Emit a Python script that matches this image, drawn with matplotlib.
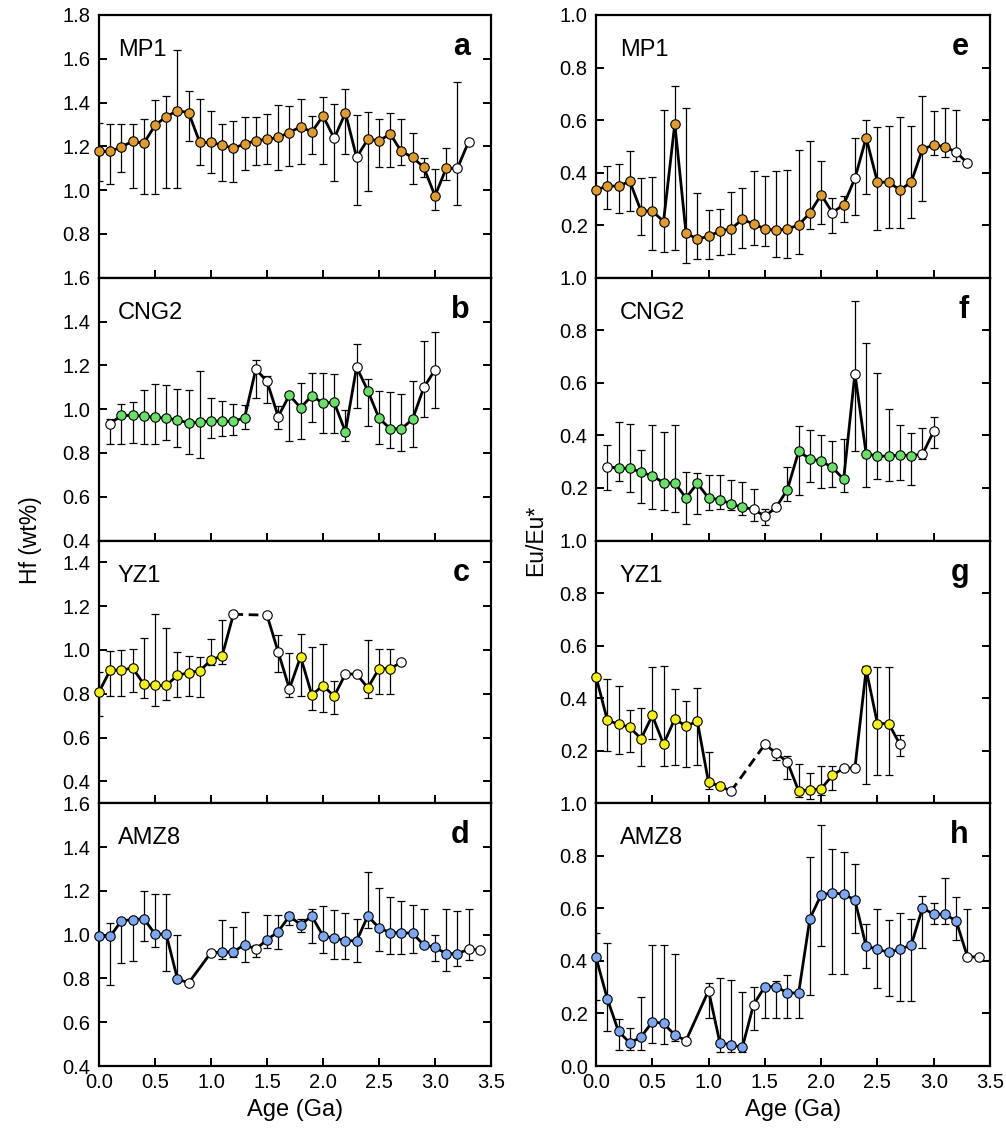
import numpy as np
import matplotlib
matplotlib.use('Agg')
import matplotlib.pyplot as plt

nan = np.nan
plt.rcParams['font.family'] = ['Liberation Sans', 'DejaVu Sans']

# ---------------- data ----------------
# Panel a: Hf, MP1
a_x = [0.0, 0.1, 0.2, 0.3, 0.4, 0.5, 0.6, 0.7, 0.8, 0.9, 1.0, 1.1, 1.2, 1.3, 1.4, 1.5, 1.6,
       1.7, 1.8, 1.9, 2.0, 2.1, 2.2, 2.3, 2.4, 2.5, 2.6, 2.7, 2.8, 2.9, 3.0, 3.1, 3.2, 3.3]
a_y = [1.177, 1.177, 1.198, 1.223, 1.214, 1.296, 1.336, 1.363, 1.354, 1.218, 1.218, 1.205,
       1.192, 1.211, 1.226, 1.232, 1.241, 1.263, 1.29, 1.266, 1.339, 1.237, 1.353, 1.15, 1.232,
       1.226, 1.256, 1.177, 1.15, 1.104, 0.974, 1.10, 1.10, 1.221]
a_hi = [1.305, 1.30, 1.30, 1.30, 1.327, 1.41, 1.43, 1.641, 1.455, 1.415, 1.36, 1.304, 1.316,
        1.333, 1.333, 1.348, 1.39, 1.383, 1.418, 1.337, 1.426, 1.395, 1.46, 1.345, 1.357, 1.325,
        1.351, 1.327, 1.26, 1.147, 1.095, 1.192, 1.496, nan]
a_lo = [1.043, 1.03, 1.084, 1.012, 0.983, 0.983, 1.012, 1.012, 1.226, 1.115, 1.08, 1.044, 1.038,
        1.093, 1.115, 1.12, 1.093, 1.111, 1.12, 1.163, 1.12, 1.044, 1.165, 0.933, 0.994, 1.107,
        1.107, 1.115, 1.027, 1.06, 0.908, 1.046, 0.933, nan]
a_open = [2.1, 2.3, 3.2, 3.3]

# Panel b: Hf, CNG2
b_x = [0.1, 0.2, 0.3, 0.4, 0.5, 0.6, 0.7, 0.8, 0.9, 1.0, 1.1, 1.2, 1.3, 1.4, 1.5, 1.6, 1.7,
       1.8, 1.9, 2.0, 2.1, 2.2, 2.3, 2.4, 2.5, 2.6, 2.7, 2.8, 2.9, 3.0]
b_y = [0.934, 0.971, 0.971, 0.968, 0.962, 0.959, 0.95, 0.937, 0.94, 0.947, 0.944, 0.945, 0.96,
       1.182, 1.127, 0.966, 1.064, 1.006, 1.061, 1.027, 1.031, 0.896, 1.192, 1.084, 0.959, 0.91,
       0.91, 0.954, 1.099, 1.179]
b_hi = [0.956, 1.024, 1.032, 1.089, 1.115, 1.108, 1.092, 1.087, 1.173, 1.052, 1.035, 1.023,
        1.02, 1.223, 1.15, 1.014, 1.07, 1.119, 1.163, 1.163, 1.159, 0.997, 1.299, 1.137, 1.082,
        1.078, 1.07, 1.13, 1.31, 1.35]
b_lo = [0.843, 0.843, 0.847, 0.84, 0.843, 0.858, 0.829, 0.795, 0.777, 0.866, 0.875, 0.881,
        0.911, 1.052, 1.03, 0.911, 0.856, 0.863, 0.939, 0.889, 0.889, 0.853, 1.006, 0.924, 0.841,
        0.824, 0.808, 0.826, 0.963, 1.003]
b_open = [0.1, 1.4, 1.5, 1.6, 2.3, 2.9, 3.0]

# Panel c: Hf, YZ1
c_x = [0.0, 0.1, 0.2, 0.3, 0.4, 0.5, 0.6, 0.7, 0.8, 0.9, 1.0, 1.1, 1.2,
       1.5, 1.6, 1.7, 1.8, 1.9, 2.0, 2.1, 2.2, 2.3, 2.4, 2.5, 2.6, 2.7]
c_y = [0.808, 0.908, 0.908, 0.918, 0.844, 0.838, 0.838, 0.884, 0.896, 0.905, 0.954, 0.974, 1.163,
       1.159, 0.991, 0.823, 0.969, 0.795, 0.837, 0.789, 0.89, 0.89, 0.827, 0.915, 0.915, 0.944]
c_hi = [0.899, 0.994, 1.0, 1.006, 1.053, 1.163, 1.1, 0.99, 0.974, 0.966, 1.05, 1.137, nan,
        nan, 1.07, 0.986, 1.073, 1.014, 1.029, 0.858, nan, nan, 1.044, 1.005, 1.005, nan]
c_lo = [0.70, 0.788, 0.788, 0.808, 0.78, 0.742, 0.77, 0.786, 0.79, 0.786, 0.93, 0.934, nan,
        nan, 0.9, 0.786, 0.788, 0.724, 0.716, 0.708, nan, nan, 0.78, 0.8, 0.8, nan]
c_open = [1.2, 1.5, 1.6, 1.7, 2.2, 2.3, 2.7]
c_dash = (1.2, 1.5)

# Panel d: Hf, AMZ8
d_x = [0.0, 0.1, 0.2, 0.3, 0.4, 0.5, 0.6, 0.7, 0.8,
       1.0, 1.1, 1.2, 1.3, 1.4, 1.5, 1.6, 1.7, 1.8, 1.9, 2.0, 2.1, 2.2, 2.3, 2.4, 2.5, 2.6,
       2.7, 2.8, 2.9, 3.0, 3.1, 3.2, 3.3, 3.4]
d_y = [0.992, 0.992, 1.063, 1.069, 1.073, 1.003, 1.002, 0.798, 0.779,
       0.918, 0.919, 0.922, 0.954, 0.934, 0.976, 1.014, 1.084, 1.046, 1.084, 0.995, 0.983, 0.973,
       0.971, 1.085, 1.031, 1.009, 1.009, 1.006, 0.953, 0.942, 0.913, 0.913, 0.933, 0.931]
d_hi = [nan, 1.052, 1.07, 1.07, 1.198, 1.185, 1.185, 1.0, nan,
        nan, 1.069, 1.034, 1.102, 0.954, 1.09, 1.09, 1.1, 1.07, 1.119, 1.131, 1.113, 1.1, 1.07,
        1.285, 1.214, 1.171, 1.154, 1.136, 1.118, 1.0, 1.118, 1.108, 1.118, nan]
d_lo = [nan, 0.771, 0.869, 0.878, 0.973, 0.945, 0.832, 0.782, nan,
        nan, 0.887, 0.898, 0.876, 0.898, 0.937, 0.933, 1.043, 1.01, 0.96, 0.915, 0.889, 0.889,
        0.876, 1.031, 0.927, 0.91, 0.91, 0.915, 0.95, 0.881, 0.834, 0.856, 0.882, nan]
d_open = [0.8, 1.0, 1.4, 3.3, 3.4]

# Panel e: Eu/Eu*, MP1
e_x = a_x
e_y = [0.334, 0.349, 0.349, 0.367, 0.254, 0.254, 0.214, 0.586, 0.169, 0.148, 0.157, 0.178,
       0.186, 0.222, 0.205, 0.186, 0.18, 0.186, 0.2, 0.247, 0.316, 0.248, 0.278, 0.378, 0.533,
       0.364, 0.364, 0.334, 0.364, 0.489, 0.506, 0.498, 0.478, 0.436]
e_hi = [nan, 0.425, 0.432, 0.484, 0.378, 0.382, 0.637, 0.729, 0.646, 0.321, 0.257, 0.261, 0.325,
        0.341, 0.405, 0.388, 0.405, 0.41, 0.487, 0.52, 0.446, 0.302, 0.313, 0.531, 0.602, 0.575,
        0.577, 0.612, 0.577, 0.692, 0.633, 0.646, 0.64, nan]
e_lo = [nan, 0.26, 0.245, 0.254, 0.162, 0.106, 0.098, 0.106, 0.057, 0.071, 0.07, 0.087, 0.09,
        0.112, 0.124, 0.12, 0.08, 0.077, 0.089, 0.186, 0.206, 0.169, 0.211, 0.239, 0.318, 0.18,
        0.19, 0.19, 0.229, 0.293, 0.469, 0.461, 0.446, nan]
e_open = [2.1, 2.3, 3.2, 3.3]

# Panel f: Eu/Eu*, CNG2
f_x = b_x
f_y = [0.281, 0.275, 0.275, 0.26, 0.246, 0.22, 0.218, 0.162, 0.218, 0.161, 0.156, 0.139, 0.126,
       0.119, 0.092, 0.126, 0.194, 0.339, 0.311, 0.302, 0.278, 0.233, 0.635, 0.33, 0.321, 0.321,
       0.326, 0.323, 0.328, 0.416]
f_hi = [0.365, 0.452, 0.445, 0.346, 0.44, 0.413, 0.438, 0.261, 0.258, 0.251, 0.25, 0.23, 0.222,
        0.195, 0.119, nan, 0.28, 0.436, 0.419, 0.4, 0.379, 0.388, 0.913, 0.75, 0.636, 0.502,
        0.439, 0.41, 0.429, 0.471]
f_lo = [0.191, 0.228, 0.186, 0.143, 0.119, 0.116, 0.109, 0.064, 0.101, 0.115, 0.121, 0.115,
        0.098, 0.074, 0.06, nan, 0.149, 0.173, 0.224, 0.201, 0.204, 0.185, 0.34, 0.204, 0.234,
        0.227, 0.23, 0.213, 0.311, 0.352]
f_open = [0.1, 1.4, 1.5, 1.6, 2.3, 2.9, 3.0]

# Panel g: Eu/Eu*, YZ1
g_x = c_x
g_y = [0.482, 0.317, 0.3, 0.29, 0.245, 0.334, 0.225, 0.321, 0.293, 0.313, 0.079, 0.066, 0.046,
       0.224, 0.191, 0.157, 0.047, 0.051, 0.055, 0.106, 0.134, 0.134, 0.509, 0.303, 0.303, 0.224]
g_hi = [nan, 0.471, 0.446, 0.355, 0.362, 0.518, 0.522, 0.435, 0.388, 0.438, 0.194, nan, nan,
        nan, 0.194, 0.181, 0.149, 0.117, 0.14, 0.14, nan, nan, 0.522, 0.518, 0.518, 0.26]
g_lo = [nan, 0.2, 0.186, 0.194, 0.141, 0.243, 0.141, 0.145, 0.139, 0.147, 0.056, nan, nan,
        nan, 0.166, 0.092, 0.022, 0.017, 0.03, 0.051, nan, nan, 0.073, 0.107, 0.107, 0.18]
g_open = [1.2, 1.5, 1.6, 1.7, 2.2, 2.3, 2.7]
g_dash = (1.2, 1.5)

# Panel h: Eu/Eu*, AMZ8
h_x = d_x
h_y = [0.414, 0.256, 0.132, 0.088, 0.11, 0.168, 0.162, 0.118, 0.097,
       0.287, 0.089, 0.08, 0.071, 0.234, 0.302, 0.302, 0.278, 0.278, 0.561, 0.651, 0.659, 0.654,
       0.632, 0.455, 0.445, 0.432, 0.445, 0.46, 0.601, 0.578, 0.578, 0.552, 0.415, 0.415]
h_hi = [0.507, 0.469, 0.177, 0.146, 0.261, 0.459, 0.459, 0.425, nan,
        0.317, 0.336, 0.329, 0.28, 0.299, 0.30, 0.325, 0.346, 0.28, 0.795, 0.916, 0.824, 0.814,
        0.767, 0.541, 0.597, 0.557, 0.583, 0.558, 0.647, 0.62, 0.715, 0.643, 0.599, nan]
h_lo = [0.251, 0.134, 0.062, 0.062, 0.062, 0.087, 0.083, 0.096, nan,
        0.183, 0.055, 0.055, 0.055, 0.136, 0.181, 0.181, 0.181, 0.183, 0.27, 0.456, 0.35, 0.35,
        0.507, 0.372, 0.296, 0.268, 0.248, 0.248, 0.448, 0.539, 0.539, 0.478, 0.41, nan]
h_open = [0.8, 1.0, 1.4, 3.3, 3.4]

samples = ['MP1', 'CNG2', 'YZ1', 'AMZ8']
letters_left = ['a', 'b', 'c', 'd']
letters_right = ['e', 'f', 'g', 'h']
colors = ['#DD9B32', '#6BDD6B', '#F3F01E', '#7FA6F0']

left_ylims = [(0.6, 1.8), (0.4, 1.6), (0.3, 1.5), (0.4, 1.6)]
left_yticks = [[0.6, 0.8, 1.0, 1.2, 1.4, 1.6, 1.8],
               [0.4, 0.6, 0.8, 1.0, 1.2, 1.4, 1.6],
               [0.4, 0.6, 0.8, 1.0, 1.2, 1.4],
               [0.4, 0.6, 0.8, 1.0, 1.2, 1.4, 1.6]]
left_hidden = [[0.6], [], [], []]
right_ylims = [(0.0, 1.0)] * 4
right_yticks = [[0.0, 0.2, 0.4, 0.6, 0.8, 1.0]] * 4
right_hidden = [[0.0], [0.0], [0.0], []]
xticks = [0.0, 0.5, 1.0, 1.5, 2.0, 2.5, 3.0, 3.5]

# ---------------- layout ----------------
W, H = 1006, 1129
fig = plt.figure(figsize=(W / 100, H / 100), dpi=100)
top_px, bot_px = 15, 1066
ph = (bot_px - top_px) / 4
cols = [(99, 491), (596, 990)]


def make_ax(col, row):
    x0, x1 = cols[col]
    ytop = top_px + row * ph
    return fig.add_axes([x0 / W, 1 - (ytop + ph) / H, (x1 - x0) / W, ph / H])


def draw(ax, x, y, lo, hi, open_x, color, dash=None):
    x = np.array(x, float)
    y = np.array(y, float)
    lo = np.array(lo, float)
    hi = np.array(hi, float)
    m = ~np.isnan(hi)
    ax.errorbar(x[m], y[m], yerr=[np.clip(y[m] - lo[m], 0, None), np.clip(hi[m] - y[m], 0, None)],
                fmt='none', ecolor='black', elinewidth=0.9, capsize=3.0, capthick=0.9, zorder=1)
    lw = 2.0
    if dash is None:
        ax.plot(x, y, color='black', lw=lw, zorder=2)
    else:
        k = int(np.argmin(np.abs(x - dash[0])))
        ax.plot(x[:k + 1], y[:k + 1], color='black', lw=lw, zorder=2)
        ax.plot(x[k:k + 2], y[k:k + 2], color='black', lw=lw, ls=(0, (3.5, 2)), zorder=2)
        ax.plot(x[k + 1:], y[k + 1:], color='black', lw=lw, zorder=2)
    is_open = np.array([np.any(np.isclose(v, open_x)) for v in x])
    ax.plot(x[~is_open], y[~is_open], 'o', ms=6.8, mfc=color, mec='black', mew=0.8, ls='none',
            zorder=3, clip_on=False)
    ax.plot(x[is_open], y[is_open], 'o', ms=6.8, mfc='white', mec='black', mew=0.8, ls='none',
            zorder=3, clip_on=False)


def style(ax, ylim, yticks, hidden, bottom, col):
    ax.set_xlim(0, 3.5)
    ax.set_ylim(*ylim)
    ax.set_xticks(xticks)
    ax.set_yticks(yticks)
    ax.set_yticklabels(['' if any(np.isclose(t, hidden)) else f'{t:.1f}' for t in yticks])
    if bottom:
        ax.set_xticklabels([f'{t:.1f}' for t in xticks])
    else:
        ax.set_xticklabels([])
    ax.tick_params(axis='both', direction='in', length=6, width=1.4, labelsize=14.5, pad=6,
                   colors='black')
    ax.tick_params(axis='y', right=True, left=True)
    ax.tick_params(axis='x', top=False, bottom=True, pad=5)
    for s in ax.spines.values():
        s.set_linewidth(1.6)


left_data = [(a_x, a_y, a_lo, a_hi, a_open, None),
             (b_x, b_y, b_lo, b_hi, b_open, None),
             (c_x, c_y, c_lo, c_hi, c_open, c_dash),
             (d_x, d_y, d_lo, d_hi, d_open, None)]
right_data = [(e_x, e_y, e_lo, e_hi, e_open, None),
              (f_x, f_y, f_lo, f_hi, f_open, None),
              (g_x, g_y, g_lo, g_hi, g_open, g_dash),
              (h_x, h_y, h_lo, h_hi, h_open, None)]

for col, (datas, ylims, yticks, hiddens, letters) in enumerate([
        (left_data, left_ylims, left_yticks, left_hidden, letters_left),
        (right_data, right_ylims, right_yticks, right_hidden, letters_right)]):
    for row in range(4):
        ax = make_ax(col, row)
        x, y, lo, hi, op, dash = datas[row]
        draw(ax, x, y, lo, hi, op, colors[row], dash)
        style(ax, ylims[row], yticks[row], hiddens[row], row == 3, col)
        width_px = cols[col][1] - cols[col][0]
        lx = (19 if col == 0 else 24) / width_px
        ax.text(lx, 1 - 41 / ph, samples[row], transform=ax.transAxes, fontsize=17,
                ha='left', va='baseline')
        ax.text(1 - 21 / width_px, 1 - 40 / ph, letters[row], transform=ax.transAxes,
                fontsize=22, fontweight='bold', ha='right', va='baseline')
        if row == 3:
            ax.set_xlabel('Age (Ga)', fontsize=17, labelpad=5)

fig.text(31 / W, 1 - 540 / H, 'Hf (wt%)', rotation=90, ha='center', va='center', fontsize=16.5)
fig.text(536 / W, 1 - 540 / H, 'Eu/Eu*', rotation=90, ha='center', va='center', fontsize=16.5)

fig.savefig('out.png', dpi=100)
